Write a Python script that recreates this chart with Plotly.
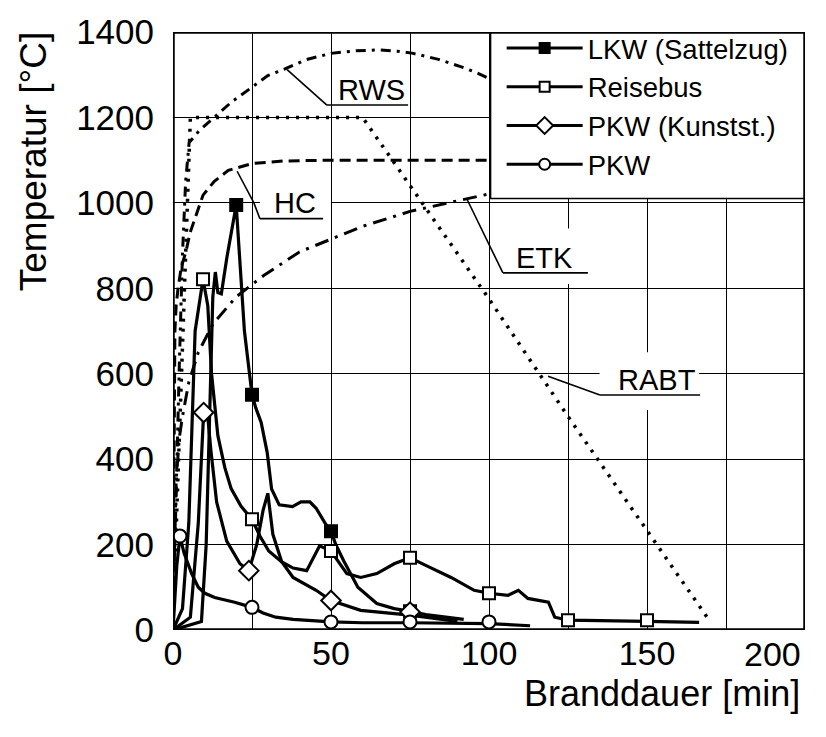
import plotly.graph_objects as go

FONT = "Liberation Sans, Arial, Helvetica, sans-serif"

# ---------------- data ----------------
# Standard fire curves
etk_t = [0, 1, 2, 3, 5, 8, 12.7, 20, 28.7, 40, 50, 60, 75, 93, 100]
etk_T = [20, 350, 450, 500, 580, 650, 717, 780, 830, 885, 915, 945, 980, 1010, 1021]

hc_t = [0, 0.3, 0.6, 1, 1.6, 2.6, 4.1, 5.4, 7.3, 9.5, 13, 17.5, 25, 35, 50, 75, 100]
hc_T = [20, 400, 700, 760, 800, 849, 886, 930, 972, 1018, 1050, 1076, 1092, 1098, 1100, 1100, 1100]

rws_t = [0, 1, 2, 3, 4, 5.1, 8.3, 12.1, 18.5, 24.5, 30, 35.6, 42, 50, 58, 65, 71, 76, 84, 91, 96, 100]
rws_T = [20, 350, 620, 880, 1050, 1141, 1169, 1194, 1236, 1268, 1298, 1314, 1335, 1350, 1356, 1358, 1355, 1350, 1336, 1319, 1305, 1291]

rabt_t = [0, 1, 2.5, 4, 4.8, 5.5, 60, 100, 125, 169]
rabt_T = [20, 240, 560, 880, 1100, 1200, 1200, 775, 500, 30]

# Fire tests
lkw_t = [0, 9, 10.5, 11.8, 12.6, 13.4, 14.2, 15.3, 17, 20, 21.2, 22.6, 25, 26.2, 27.9, 29.8, 31.2, 33.6, 37.8, 40.5, 43.3, 45.3, 48.3, 50, 51.5, 54, 58.5, 64.5, 70, 75, 80, 88.8, 92]
lkw_T = [0, 20, 200, 600, 780, 838, 790, 787, 870, 995, 870, 700, 551, 520, 486, 416, 330, 293, 289, 300, 300, 285, 248, 231, 200, 162, 100, 62, 50, 44, 36, 28, 25]
lkw_mt = [20, 25, 50, 75]
lkw_mT = [995, 551, 231, 44]

bus_t = [0, 3, 5, 7, 9.5, 11, 12.2, 14.2, 16.4, 18.4, 21.5, 25, 27.5, 30.3, 34.3, 38, 42.3, 45, 46.4, 50, 52.5, 55, 59.4, 64.5, 70, 75, 80.3, 88, 95.3, 100, 106, 109.3, 112.3, 118.8, 120.8, 125, 150, 166.5]
bus_T = [0, 50, 250, 700, 821, 760, 600, 455, 380, 331, 290, 259, 220, 185, 160, 145, 139, 178, 197, 185, 160, 132, 123, 132, 155, 169, 150, 123, 93, 86, 81, 93, 74, 65, 30, 23, 20, 18]
bus_mt = [9.5, 25, 50, 75, 100, 125, 150]
bus_mT = [821, 259, 185, 169, 86, 23, 23]

pkwk_t = [0, 5.5, 8, 9.7, 11, 12, 13.8, 17, 21.2, 24, 26.5, 28.5, 30, 31.6, 34.4, 38, 45.3, 50, 59.4, 75, 90]
pkwk_T = [0, 30, 250, 509, 500, 420, 300, 208, 155, 139, 200, 280, 320, 224, 160, 123, 93, 69, 46, 35, 20]
pkwk_mt = [9.7, 24, 50, 75]
pkwk_mT = [509, 139, 69, 42]

pkw_t = [0, 1.2, 2.2, 3.5, 5.9, 8, 10.1, 13.2, 19.5, 25, 28.5, 32.5, 38, 50, 60, 75, 100, 113]
pkw_T = [0, 150, 220, 180, 132, 100, 86, 76, 65, 53, 40, 30, 25, 19, 17, 17, 15, 10]
pkw_mt = [2.2, 25, 50, 75, 100]
pkw_mT = [220, 53, 19, 19, 19]

series_names = ["LKW (Sattelzug)", "Reisebus", "PKW (Kunstst.)", "PKW"]

x_tickvals = [0, 25, 50, 75, 100, 125, 150, 175, 200]
x_ticktext = ["0", "", "50", "", "100", "", "150", "", ""]

# ---------------- figure ----------------
fig = go.Figure()

std_curves = [
    (rabt_t, rabt_T, "3px,7px", 3.5),
    (hc_t, hc_T, "11px,6px", 3),
    (rws_t, rws_T, "10px,6px,3px,6px", 3),
    (etk_t, etk_T, "14px,7px,3px,7px", 3),
]
for tx, ty, dash, w in std_curves:
    fig.add_trace(go.Scatter(x=tx, y=ty, mode="lines", showlegend=False,
                             line=dict(color="black", width=w, dash=dash),
                             hoverinfo="skip"))

tests = [
    (lkw_t, lkw_T, lkw_mt, lkw_mT, "square", "black", 12),
    (bus_t, bus_T, bus_mt, bus_mT, "square", "white", 12),
    (pkwk_t, pkwk_T, pkwk_mt, pkwk_mT, "diamond", "white", 15),
    (pkw_t, pkw_T, pkw_mt, pkw_mT, "circle", "white", 13),
]
for (tx, ty, mx, my, sym, fill, size), name in zip(tests, series_names):
    fig.add_trace(go.Scatter(x=tx, y=ty, mode="lines", showlegend=False,
                             line=dict(color="black", width=3.2), hoverinfo="skip"))
    fig.add_trace(go.Scatter(x=mx, y=my, mode="markers", showlegend=False,
                             marker=dict(symbol=sym, color=fill, size=size,
                                         line=dict(color="black", width=2))))
    fig.add_trace(go.Scatter(x=[None], y=[None], mode="lines+markers", name=name,
                             line=dict(color="black", width=3),
                             marker=dict(symbol=sym, color=fill, size=size - 2,
                                         line=dict(color="black", width=2))))

shapes = []
# legend box (covers grid in upper right)
shapes.append(dict(type="rect", xref="x", yref="y", x0=100.5, x1=200, y0=1010, y1=1400,
                   fillcolor="white", line=dict(color="black", width=1.5), layer="between"))
# white boxes behind curve labels
for x0, x1, y0, y1 in [(27.5, 50, 960, 1045), (104.5, 131.5, 810, 940), (135, 166.5, 515, 650)]:
    shapes.append(dict(type="rect", xref="x", yref="y", x0=x0, x1=x1, y0=y0, y1=y1,
                       fillcolor="white", line=dict(width=0), layer="between"))
# leader lines + underlines
leaders = [
    [(36.1, 1312), (48.7, 1229), (74.4, 1229)],          # RWS
    [(20.3, 1074), (25.6, 1000), (27.5, 963), (47.5, 963)],  # HC
    [(93, 1009), (104.4, 836), (131.3, 836)],            # ETK
    [(118.7, 594), (135.1, 550), (166.8, 550)],          # RABT
]
for pts in leaders:
    for (xa, ya), (xb, yb) in zip(pts[:-1], pts[1:]):
        shapes.append(dict(type="line", xref="x", yref="y", x0=xa, y0=ya, x1=xb, y1=yb,
                           line=dict(color="black", width=1.6), layer="above"))
# plot frame
shapes.append(dict(type="rect", xref="x", yref="y", x0=0, x1=200, y0=0, y1=1400,
                   line=dict(color="black", width=3.5), layer="above"))

annotations = []
for txt, xc, yb in [("RWS", 62.7, 1232), ("HC", 38.6, 966), ("ETK", 117.7, 839), ("RABT", 153.2, 553)]:
    annotations.append(dict(text=txt, x=xc, y=yb, xref="x", yref="y", xanchor="center",
                            yanchor="bottom", showarrow=False, yshift=-4,
                            font=dict(family=FONT, size=29, color="black")))
# axis titles and last x tick label (positioned in pixels -> paper fractions)
annotations.append(dict(text="Temperatur [°C]", x=(33 - 173) / 632, y=(630 - 155) / 606,
                        xref="paper", yref="paper", xanchor="center", yanchor="middle",
                        showarrow=False, textangle=-90,
                        font=dict(family=FONT, size=37, color="black")))
annotations.append(dict(text="Branddauer [min]", x=(802 - 173) / 632, y=(630 - 694) / 606,
                        xref="paper", yref="paper", xanchor="right", yanchor="middle",
                        showarrow=False, font=dict(family=FONT, size=36, color="black")))
annotations.append(dict(text="200", x=(803 - 173) / 632, y=(630 - 654) / 606,
                        xref="paper", yref="paper", xanchor="right", yanchor="middle",
                        showarrow=False, font=dict(family=FONT, size=34, color="black")))

fig.update_layout(
    width=826, height=737,
    margin=dict(l=173, r=21, t=24, b=107),
    paper_bgcolor="white", plot_bgcolor="white",
    font=dict(family=FONT, color="black"),
    showlegend=True,
    legend=dict(x=0.52, y=1.014, xanchor="left", yanchor="top",
                bgcolor="rgba(0,0,0,0)", borderwidth=0,
                font=dict(family=FONT, size=27.5, color="black"),
                itemwidth=76, tracegroupgap=0),
    shapes=shapes, annotations=annotations,
    xaxis=dict(range=[0, 200], tickmode="array",
               tickvals=x_tickvals, ticktext=x_ticktext,
               showgrid=True, gridcolor="black", gridwidth=1.4, zeroline=False,
               showline=False, ticks="", tickfont=dict(family=FONT, size=34, color="black")),
    yaxis=dict(range=[0, 1400], tickmode="linear", tick0=0, dtick=200,
               showgrid=True, gridcolor="black", gridwidth=1.4, zeroline=False,
               ticklabelstandoff=18,
               showline=False, ticks="", tickfont=dict(family=FONT, size=35, color="black")),
)

fig.write_html("out.html")
